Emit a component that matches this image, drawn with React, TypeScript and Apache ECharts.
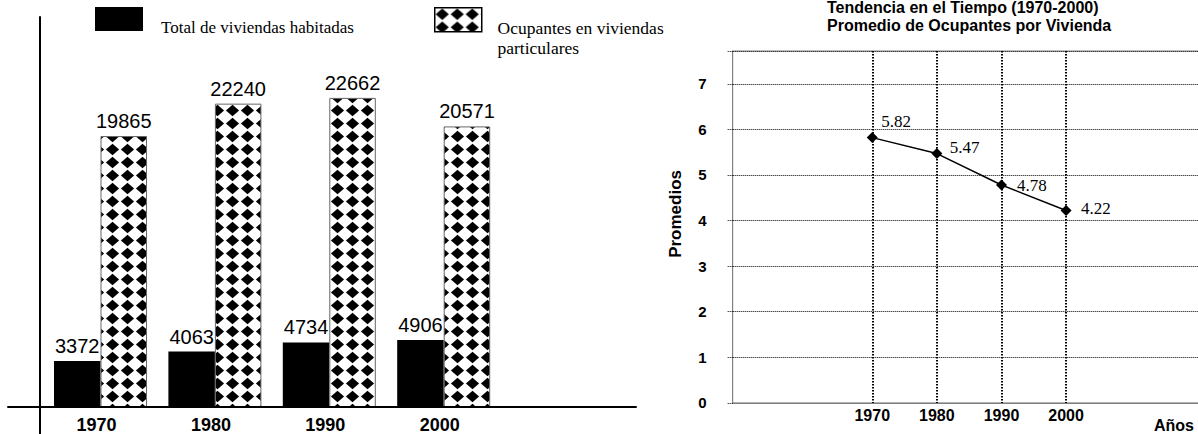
import { useEffect, useRef } from 'react';
import * as echarts from 'echarts';

// Censos 1970-2000: viviendas habitadas y ocupantes
const years = ['1970', '1980', '1990', '2000'];
const viviendasHabitadas = [3372, 4063, 4734, 4906];
const ocupantesViviendas = [19865, 22240, 22662, 20571];
const serieHabitadas = 'Total de viviendas habitadas';
const serieOcupantes = 'Ocupantes en viviendas particulares';

// Promedio de ocupantes por vivienda
const promedioYears = [1970, 1980, 1990, 2000];
const promedioOcupantes = [5.82, 5.47, 4.78, 4.22];
const promedioTicks = [0, 1, 2, 3, 4, 5, 6, 7];

const SANS = '"Liberation Sans", Arial, sans-serif';
const SERIF = '"Liberation Serif", "Times New Roman", serif';

// per-point nudges for the average labels
const avgLabelOffsets: [number, number][] = [
  [-1.5, -16],
  [2.5, -6],
  [5, 0],
  [4.5, -2.5],
];

// black diamonds on white, tiled for the "ocupantes" bars
function diamondTile(): HTMLCanvasElement {
  const c = document.createElement('canvas');
  c.width = 15;
  c.height = 13;
  const ctx = c.getContext('2d')!;
  ctx.fillStyle = '#fff';
  ctx.fillRect(0, 0, 15, 13);
  ctx.filter = 'blur(0.4px)';
  ctx.fillStyle = '#000';
  ctx.beginPath();
  ctx.moveTo(7.5, 0.7);
  ctx.lineTo(14.1, 6.5);
  ctx.lineTo(7.5, 12.3);
  ctx.lineTo(0.9, 6.5);
  ctx.closePath();
  ctx.fill();
  return c;
}

export default function App() {
  const ref = useRef<HTMLDivElement>(null);

  useEffect(() => {
    if (!ref.current) return;
    const chart = echarts.init(ref.current, null, { renderer: 'svg' });
    const pattern: any = { image: diamondTile(), repeat: 'repeat', imageWidth: 15, imageHeight: 13 };

    const legendIcon = (name: string, left: number, width: number, extra: any = {}) => ({
      data: [name],
      left,
      top: 7,
      padding: 0,
      itemWidth: width,
      itemHeight: 24,
      icon: 'rect',
      selectedMode: false,
      formatter: () => '',
      ...extra,
    });

    const option: any = {
      animation: false,
      backgroundColor: '#fff',
      title: {
        text: 'Tendencia en el Tiempo (1970-2000)\nPromedio de Ocupantes por Vivienda',
        left: 827,
        top: -2,
        padding: 0,
        textStyle: { fontFamily: SANS, fontSize: 16, fontWeight: 'bold', lineHeight: 18, color: '#000' },
      },
      legend: [
        legendIcon(serieHabitadas, 95, 48),
        legendIcon(serieOcupantes, 434, 47, { itemStyle: { borderColor: '#000', borderWidth: 1.5 } }),
      ],
      graphic: [
        {
          type: 'text',
          x: 161,
          y: 27.6,
          style: { text: serieHabitadas, font: `17px ${SERIF}`, fill: '#000', verticalAlign: 'middle' },
        },
        {
          type: 'text',
          x: 497.5,
          y: 37.5,
          style: {
            text: serieOcupantes.replace('viviendas ', 'viviendas\n'),
            font: `17.5px ${SERIF}`,
            lineHeight: 20,
            fill: '#000',
            verticalAlign: 'middle',
          },
        },
      ],
      grid: [
        { left: 8, right: 562, top: 17, bottom: 0, outerBoundsMode: 'none' },
        { left: 43.3, right: 697.1, top: 66, bottom: 27, outerBoundsMode: 'none' },
        {
          left: 732.7,
          width: 514.3,
          top: 51,
          bottom: 31.1,
          outerBoundsMode: 'none',
          show: true,
          borderColor: '#808080',
          borderWidth: 1,
        },
      ],
      xAxis: [
        {
          gridIndex: 0,
          type: 'value',
          min: 0,
          max: 1,
          offset: -27,
          z: 5,
          axisLine: { show: true, onZero: false, lineStyle: { color: '#000', width: 2 } },
          axisTick: { show: false },
          axisLabel: { show: false },
          splitLine: { show: false },
        },
        {
          gridIndex: 1,
          type: 'category',
          data: years,
          axisLine: { show: false },
          axisTick: { show: false },
          axisLabel: {
            margin: 9,
            fontFamily: SANS,
            fontSize: 18,
            fontWeight: 'bold',
            color: '#000',
            padding: [0, 8, 0, 0],
          },
        },
        {
          gridIndex: 2,
          type: 'value',
          min: 1948.4,
          max: 2028,
          axisLine: { show: true, onZero: false, lineStyle: { color: '#808080', width: 1 } },
          axisTick: { show: false, customValues: promedioYears },
          axisLabel: {
            customValues: promedioYears,
            formatter: (v: number) => String(v),
            margin: 5,
            fontFamily: SANS,
            fontSize: 16,
            fontWeight: 'bold',
            color: '#000',
          },
          splitLine: { show: true, lineStyle: { color: '#000', width: 2, type: [1.5, 1.5] } },
          name: 'Años',
          nameLocation: 'end',
          nameGap: -93,
          nameTextStyle: {
            fontFamily: SANS,
            fontSize: 16,
            fontWeight: 'bold',
            color: '#000',
            verticalAlign: 'top',
            padding: [15, 0, 0, 0],
          },
        },
      ],
      yAxis: [
        {
          gridIndex: 0,
          type: 'value',
          min: 0,
          max: 1,
          offset: -32,
          z: 5,
          axisLine: { show: true, onZero: false, lineStyle: { color: '#000', width: 2 } },
          axisTick: { show: false },
          axisLabel: { show: false },
          splitLine: { show: false },
        },
        { gridIndex: 1, type: 'value', min: 0, max: 25000, show: false },
        {
          gridIndex: 2,
          type: 'value',
          min: 0,
          max: 7.72,
          interval: 1,
          axisLine: { show: true, lineStyle: { color: '#808080', width: 1 } },
          axisTick: { show: true, length: 5, lineStyle: { color: '#000', width: 1, type: [1, 1] } },
          axisLabel: {
            customValues: promedioTicks,
            margin: 26,
            fontFamily: SANS,
            fontSize: 15,
            fontWeight: 'bold',
            color: '#000',
            padding: [4, 0, 0, 0],
          },
          splitLine: {
            show: true,
            showMinLine: false,
            lineStyle: { color: '#000', width: 1.2, type: [1, 1] },
          },
          name: 'Promedios',
          nameLocation: 'middle',
          nameGap: 49,
          nameTextStyle: {
            fontFamily: SANS,
            fontSize: 17,
            fontWeight: 'bold',
            color: '#000',
            padding: [0, 0, 0, 26],
          },
        },
      ],
      series: [
        {
          name: serieHabitadas,
          type: 'bar',
          xAxisIndex: 1,
          yAxisIndex: 1,
          data: viviendasHabitadas,
          barWidth: 46.5,
          barGap: '0%',
          itemStyle: { color: '#000' },
          label: { show: true, position: 'top', distance: 5, fontFamily: SANS, fontSize: 20, color: '#000' },
        },
        {
          name: serieOcupantes,
          type: 'bar',
          xAxisIndex: 1,
          yAxisIndex: 1,
          data: ocupantesViviendas,
          barWidth: 46.5,
          barGap: '0%',
          itemStyle: { color: pattern, borderColor: '#666', borderWidth: 1 },
          label: { show: true, position: 'top', distance: 5, fontFamily: SANS, fontSize: 20, color: '#000' },
        },
        {
          name: 'Promedio de ocupantes',
          type: 'line',
          xAxisIndex: 2,
          yAxisIndex: 2,
          data: promedioYears.map((y, i) => ({
            value: [y, promedioOcupantes[i]],
            label: { offset: avgLabelOffsets[i] },
          })),
          symbol: 'diamond',
          symbolSize: 11,
          lineStyle: { color: '#000', width: 1.5 },
          itemStyle: { color: '#000' },
          label: {
            show: true,
            position: 'right',
            distance: 5,
            fontFamily: SERIF,
            fontSize: 17,
            color: '#000',
            formatter: (p: any) => p.value[1].toFixed(2),
          },
        },
      ],
    };

    chart.setOption(option);
    return () => chart.dispose();
  }, []);

  return (
    <div
      ref={ref}
      style={{ position: 'fixed', left: 0, top: 0, width: 1198, height: 434, background: '#fff' }}
    />
  );
}
